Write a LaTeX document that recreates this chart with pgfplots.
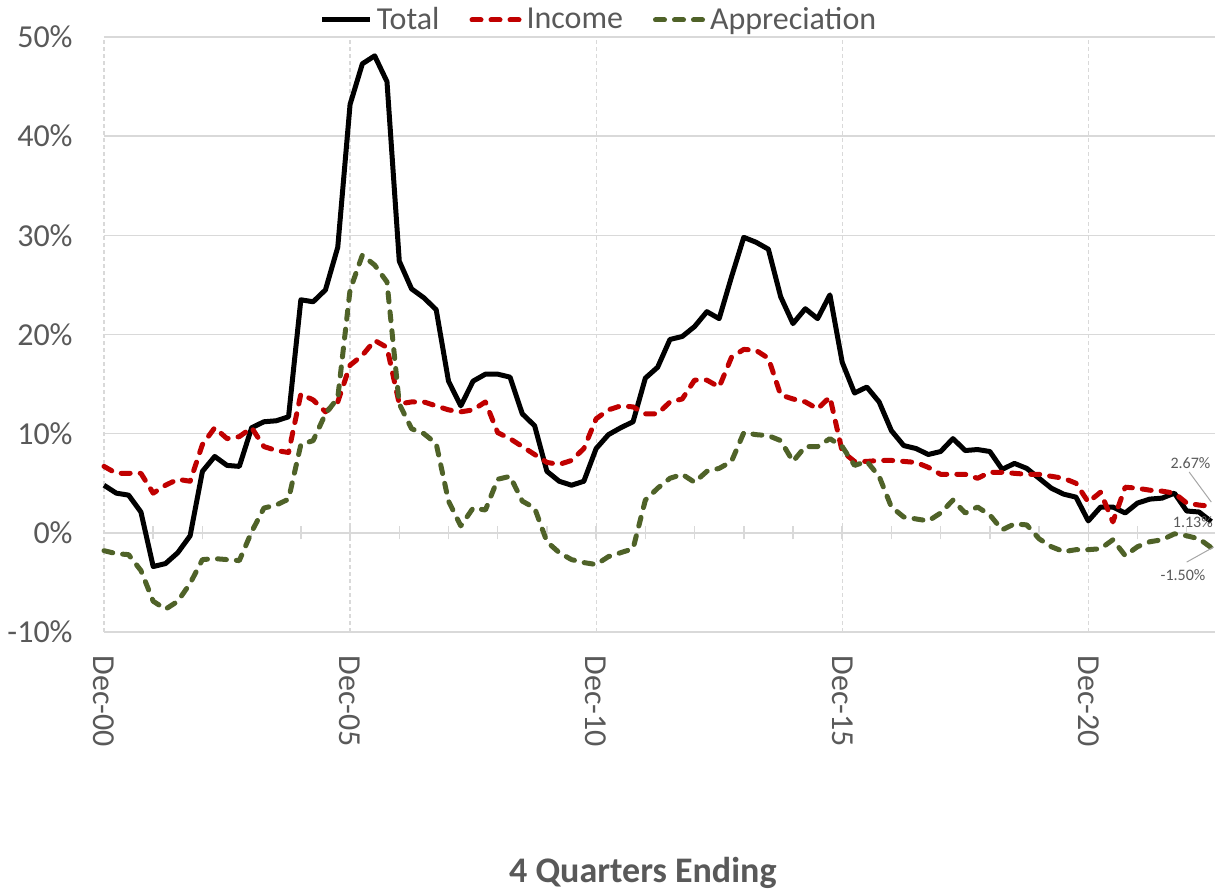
\documentclass[border=0pt]{standalone}
\usepackage{fontspec}
\setmainfont{Carlito}
\usepackage{pgfplots}
\pgfplotsset{compat=1.18}
\usepackage{pgfplotstable}
\definecolor{gridc}{HTML}{D9D9D9}
\definecolor{txt}{HTML}{595959}
\definecolor{lead}{HTML}{A6A6A6}
\definecolor{incred}{HTML}{C00000}
\definecolor{appgreen}{HTML}{4F6228}

\pgfplotstableread{
q total income apprec
0 4.8 6.7 -1.8
1 4.0 6.0 -2.1
2 3.8 6.0 -2.2
3 2.1 6.0 -3.8
4 -3.4 4.0 -6.9
5 -3.1 4.8 -7.7
6 -2.0 5.4 -6.9
7 -0.3 5.2 -5.1
8 6.2 8.9 -2.7
9 7.7 10.6 -2.6
10 6.8 9.5 -2.7
11 6.7 9.7 -2.8
12 10.6 10.6 0.1
13 11.2 8.7 2.5
14 11.3 8.3 2.8
15 11.7 8.1 3.4
16 23.5 14.0 8.9
17 23.3 13.4 9.3
18 24.5 12.2 12.0
19 28.8 13.2 13.6
20 43.2 16.9 24.5
21 47.3 17.9 28.0
22 48.1 19.4 27.0
23 45.5 18.7 25.3
24 27.4 13.0 13.0
25 24.6 13.2 10.5
26 23.7 13.2 10.0
27 22.5 12.8 9.0
28 15.3 12.4 3.2
29 12.8 12.2 0.7
30 15.3 12.4 2.5
31 16.0 13.2 2.3
32 16.0 10.1 5.4
33 15.7 9.5 5.7
34 12.0 8.7 3.2
35 10.8 7.9 2.5
36 6.2 7.1 -0.9
37 5.2 6.9 -2.0
38 4.8 7.3 -2.7
39 5.2 8.5 -3.0
40 8.5 11.5 -3.2
41 9.9 12.4 -2.4
42 10.6 12.8 -2.0
43 11.2 12.7 -1.6
44 15.6 12.0 3.3
45 16.7 12.0 4.5
46 19.5 13.2 5.5
47 19.8 13.5 5.9
48 20.8 15.4 5.1
49 22.3 15.4 6.2
50 21.6 14.7 6.5
51 25.8 17.7 7.2
52 29.8 18.5 10.1
53 29.3 18.4 9.9
54 28.6 17.6 9.8
55 23.8 13.9 9.3
56 21.1 13.5 7.2
57 22.6 13.2 8.7
58 21.6 12.5 8.7
59 24.0 13.7 9.5
60 17.2 8.2 8.7
61 14.1 7.2 6.8
62 14.7 7.2 7.2
63 13.2 7.3 5.7
64 10.3 7.3 2.6
65 8.8 7.2 1.6
66 8.5 7.1 1.4
67 7.9 6.6 1.2
68 8.2 5.9 2.0
69 9.5 5.9 3.3
70 8.3 5.9 2.0
71 8.4 5.5 2.6
72 8.2 6.1 1.8
73 6.4 6.1 0.3
74 7.0 6.0 0.9
75 6.5 5.9 0.8
76 5.5 5.9 -0.6
77 4.5 5.7 -1.4
78 3.9 5.5 -1.9
79 3.6 5.0 -1.7
80 1.2 3.1 -1.7
81 2.6 4.1 -1.6
82 2.6 1.1 -0.7
83 2.0 4.6 -2.3
84 3.0 4.5 -1.4
85 3.4 4.3 -0.9
86 3.5 4.2 -0.7
87 4.0 4.0 -0.1
88 2.2 3.0 -0.3
89 2.1 2.8 -0.6
90 1.13 2.67 -1.50
}\data

\begin{document}
\begin{tikzpicture}
\useasboundingbox (-52pt,-130pt) rectangle (556.5pt,316pt);
\begin{axis}[
  at={(0,0)}, anchor=south west,
  scale only axis, width=555.5pt, height=297.5pt,
  xmin=0, xmax=90.3, ymin=-10, ymax=50,
  clip=false,
  axis line style={draw=none},
  ytick={-10,0,...,50},
  yticklabel={\pgfmathprintnumber{\tick}\%},
  /pgf/number format/assume math mode=true,
  ymajorgrids, xmajorgrids,
  y grid style={gridc, line width=0.75pt},
  x grid style={gridc, line width=0.6pt, dash pattern=on 2pt off 1.5pt},
  major tick length=0pt,
  xtick={0,20,40,60,80},
  xticklabels={Dec-00,Dec-05,Dec-10,Dec-15,Dec-20},
  ticklabel style={font=\fontsize{16}{19}\selectfont, text=txt},
  yticklabel style={anchor=east, inner sep=0pt, xshift=-15.5pt},
  xticklabel style={yshift=-11.5pt, rotate=-90, anchor=west, inner sep=0pt},
  xlabel={4 Quarters Ending},
  xlabel style={at={(axis description cs:0.485,-0.405)}, anchor=center,
    font=\bfseries\fontsize{18}{21}\selectfont, text=txt},
  legend style={at={(axis description cs:0.4465,1.0286)}, anchor=center,
    draw=none, fill=none, font=\fontsize{16}{19}\selectfont, text=txt,
    /tikz/every even column/.append style={column sep=13pt}},
  legend columns=3,
  legend image code/.code={\draw[#1] (0pt,0pt) -- (24pt,0pt);},
]
\pgfplotsinvokeforeach{4,8,12,16,20,24,28,32,36,40,44,48,52,56,60,64,68,72,76,80,84,88}{
  \draw[gridc, line width=0.75pt] (axis cs:#1,-0.65) -- (axis cs:#1,0.65);
}
\addplot[black, line width=2.5pt, line join=round] table[x=q, y=total] {\data};
\addlegendentry{Total}
\addplot[incred, line width=2.5pt, line join=round, line cap=round, dash pattern=on 4.5pt off 5pt] table[x=q, y=income] {\data};
\addlegendentry{Income}
\addplot[appgreen, line width=2.5pt, line join=round, line cap=round, dash pattern=on 4.5pt off 5pt] table[x=q, y=apprec] {\data};
\addlegendentry{Appreciation}
\draw[lead, line width=0.5pt] (axis cs:88.2,6.13) -- (axis cs:90.0,3.1);
\draw[lead, line width=0.5pt] (axis cs:88.0,-2.95) -- (axis cs:90.2,-1.43);
\node[font=\fontsize{8}{10}\selectfont, text=txt] at (axis cs:88.3,7.04) {2.67\%};
\node[font=\fontsize{8}{10}\selectfont, text=txt] at (axis cs:88.5,1.09) {1.13\%};
\node[font=\fontsize{8}{10}\selectfont, text=txt] at (axis cs:87.7,-4.26) {-1.50\%};
\end{axis}
\end{tikzpicture}
\end{document}
